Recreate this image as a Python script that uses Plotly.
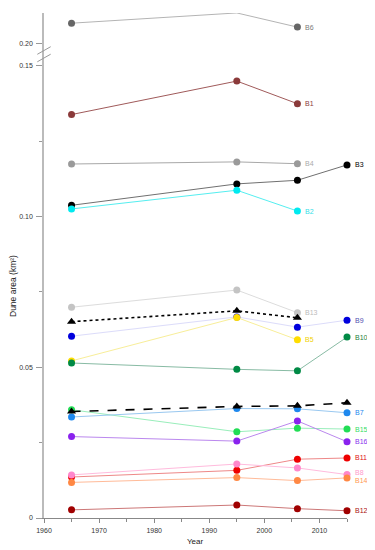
import plotly.graph_objects as go

# ---------------- data ----------------
years = [1965, 1995, 2006, 2015]

series_names = ["B6", "B1", "B4", "B3", "B2", "B13", "B9", "B5", "B10",
                "B15", "B7", "B16", "B11", "B8", "B14", "B12"]
B6 = [0.2068, 0.2102, 0.2055]
B1 = [0.1338, 0.1449, 0.1374]
B4 = [0.1174, 0.1181, 0.1175]
B3 = [0.1037, 0.1108, 0.1120, 0.1171]
B2 = [0.1025, 0.1087, 0.1018]
B13 = [0.0699, 0.0756, 0.0681]
B9 = [0.0603, 0.0667, 0.0633, 0.0656]
B5 = [0.0521, 0.0665, 0.0591]
B10 = [0.0514, 0.0493, 0.0488, 0.0600]
B15 = [0.0359, 0.0286, 0.0298, 0.0295]
B7 = [0.0335, 0.0363, 0.0362, 0.0349]
B16 = [0.0270, 0.0255, 0.0322, 0.0253]
B11 = [0.0136, 0.0158, 0.0195, 0.0199]
B8 = [0.0143, 0.0179, 0.0166, 0.0144]
B14 = [0.0118, 0.0134, 0.0124, 0.0133]
B12 = [0.0027, 0.0043, 0.0031, 0.0024]
mean_upper = [0.0651, 0.0687, 0.0664]          # dotted, triangles
mean_lower = [0.0353, 0.0370, 0.0372, 0.0382]  # dashed, triangles

y_tick_vals = [0, 0.05, 0.10, 0.15]
y_tick_text = ["0", "0.05", "0.10", "0.15"]
y_minor_vals = [0.025, 0.075, 0.125]
y2_tick_vals = [0.20]
y2_tick_text = ["0.20"]
x_tick_vals = [1960, 1970, 1980, 1990, 2000, 2010]
x_minor_vals = [1965, 1975, 1985, 1995, 2005, 2015]

values = dict(B6=B6, B1=B1, B4=B4, B3=B3, B2=B2, B13=B13, B9=B9, B5=B5, B10=B10,
              B15=B15, B7=B7, B16=B16, B11=B11, B8=B8, B14=B14, B12=B12)

# ---------------- styles ----------------
marker_col = dict(B6="#666666", B1="#8b3a3a", B4="#9a9a9a", B3="#000000",
                  B2="#00eaf0", B13="#c4c4c4", B9="#0000dd", B5="#ffdd00",
                  B10="#008a45", B15="#22dd55", B7="#1e88ee", B16="#8a22ee",
                  B11="#ee0000", B8="#ff88cc", B14="#ff8844", B12="#a00000")
line_col = dict(B6="#b4b4b4", B1="#a05a5a", B4="#a8a8a8", B3="#707070",
                B2="#55eef0", B13="#dcdcdc", B9="#dcdcfa", B5="#f8ee99",
                B10="#88bba4", B15="#99eebb", B7="#99c8f0", B16="#bb88ee",
                B11="#ee8888", B8="#ffbbdd", B14="#ffbb99", B12="#cc7777")
label_col = dict(B6="#7a7a7a", B1="#8b3a3a", B4="#aaaaaa", B3="#000000",
                 B2="#33e0e8", B13="#bbbbbb", B9="#5050b0", B5="#f0d000",
                 B10="#1a8040", B15="#33dd66", B7="#2288ee", B16="#8833ee",
                 B11="#dd1111", B8="#ff99cc", B14="#ff9955", B12="#aa1111")
label_yshift = dict(B8=2, B14=-3)

FONT = "Liberation Sans, Arial, sans-serif"
OFF = 8                      # page body margin offset of the figure
W, H = 375 - OFF, 550 - OFF
# plot area in reference-page pixels
X0, X1, Y0, Y1 = 44, 347, 13, 518
L, R, T, B = X0 - OFF, W - (X1 - OFF), Y0 - OFF, H - (Y1 - OFF)
plot_h = Y1 - Y0
pw = X1 - X0
break_px = 54                      # page pixel row of the axis break
scale = (518 - 65.7) / 0.15        # px per unit
d_split = (Y1 - break_px) / plot_h
lower_top = (Y1 - break_px) / scale
upper_bottom = 0.20 - (break_px - 43.7) / scale
upper_top = upper_bottom + (break_px - Y0) / scale


def px_x(p):
    return (p - X0) / pw


def px_y(p):
    return (Y1 - p) / plot_h


fig = go.Figure()

for name in series_names:
    v = values[name]
    yax = "y2" if name == "B6" else "y"
    fig.add_trace(go.Scatter(
        x=years[:len(v)], y=v, yaxis=yax, mode="lines+markers",
        line=dict(color=line_col[name], width=1),
        marker=dict(color=marker_col[name], size=7, symbol="circle"),
        cliponaxis=False, showlegend=False, name=name))

fig.add_trace(go.Scatter(
    x=years[:len(mean_upper)], y=mean_upper, mode="lines+markers",
    line=dict(color="#000000", width=1.6, dash="dot"),
    marker=dict(color="#000000", size=8, symbol="triangle-up"),
    cliponaxis=False, showlegend=False))
fig.add_trace(go.Scatter(
    x=years[:len(mean_lower)], y=mean_lower, mode="lines+markers",
    line=dict(color="#000000", width=1.6, dash="dash"),
    marker=dict(color="#000000", size=8, symbol="triangle-up"),
    cliponaxis=False, showlegend=False))

for name in series_names:
    v = values[name]
    fig.add_annotation(
        x=years[len(v) - 1], y=v[-1], xref="x",
        yref="y2" if name == "B6" else "y",
        text=name, showarrow=False, xanchor="left", yanchor="middle",
        xshift=6, yshift=label_yshift.get(name, 0),
        font=dict(family=FONT, size=7, color=label_col[name]))

# axis titles
fig.add_annotation(x=px_x(195.5), y=px_y(541), xref="paper", yref="paper",
                   text="Year", showarrow=False, xanchor="center", yanchor="middle",
                   font=dict(family=FONT, size=8, color="#222222"))
fig.add_annotation(x=px_x(13), y=px_y(286), xref="paper", yref="paper",
                   text="Dune area (km²)", showarrow=False, textangle=-90,
                   xanchor="center", yanchor="middle",
                   font=dict(family=FONT, size=8.5, color="#222222"))

# break marks
for yc in (break_px + 4, break_px - 3.5):
    fig.add_shape(type="line", xref="paper", yref="paper",
                  x0=px_x(37.3), y0=px_y(yc + 3.8), x1=px_x(50.7), y1=px_y(yc - 3.8),
                  line=dict(color="#999999", width=1))

fig.update_layout(
    width=W, height=H,
    margin=dict(l=L, r=R, t=T, b=B, autoexpand=False),
    paper_bgcolor="white", plot_bgcolor="white",
    font=dict(family=FONT, size=7, color="#333333"),
    xaxis=dict(range=[1960, 2015], tickvals=x_tick_vals, automargin=False,
               ticks="outside", ticklen=4, tickcolor="#888888", tickwidth=1,
               minor=dict(tickvals=x_minor_vals, ticks="outside", ticklen=2.5,
                          tickcolor="#888888"),
               showline=True, linecolor="#888888", linewidth=1,
               showgrid=False, zeroline=False, anchor="y",
               ticklabelstandoff=2,
               tickfont=dict(size=7, color="#333333")),
    yaxis=dict(domain=[0, d_split], range=[0, lower_top], automargin=False,
               tickvals=y_tick_vals, ticktext=y_tick_text,
               ticks="outside", ticklen=6, tickcolor="#999999",
               minor=dict(tickvals=y_minor_vals, ticks="outside", ticklen=3,
                          tickcolor="#999999"),
               showline=True, linecolor="#bbbbbb", linewidth=1.5,
               showgrid=False, zeroline=False, ticklabelstandoff=2,
               tickfont=dict(size=7, color="#333333")),
    yaxis2=dict(domain=[d_split, 1], range=[upper_bottom, upper_top],
                automargin=False,
                tickvals=y2_tick_vals, ticktext=y2_tick_text,
                ticks="outside", ticklen=6, tickcolor="#999999",
                showline=True, linecolor="#bbbbbb", linewidth=1.5,
                showgrid=False, zeroline=False, anchor="x", ticklabelstandoff=2,
                tickfont=dict(size=7, color="#333333")),
)

fig.write_html("out.html")
